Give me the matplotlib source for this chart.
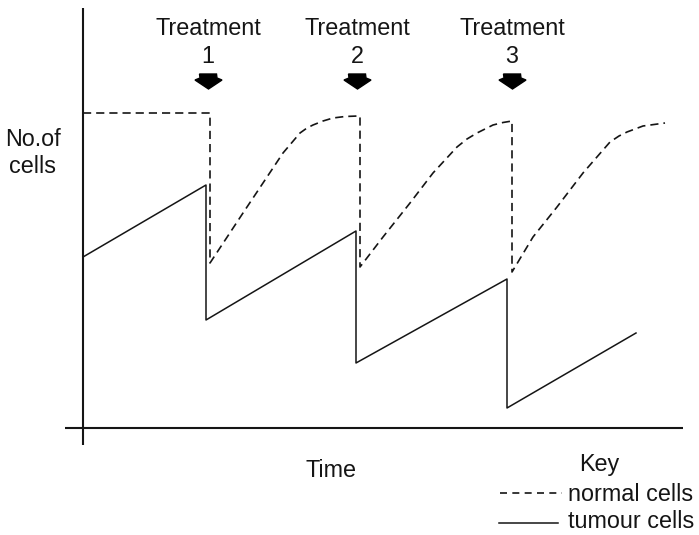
import matplotlib
matplotlib.use("Agg")
import matplotlib.pyplot as plt
from matplotlib.patches import Polygon

# ---- data (time units, cell-count units) ----
tumour_t = [0.0, 12.3, 12.3, 27.3, 27.3, 42.4, 42.4, 55.3]
tumour_n = [17.1, 24.3, 10.8, 19.7, 6.5, 14.9, 2.0, 9.5]

normal_t = [0.0, 12.7, 12.7, 16.0, 18.4, 20.0, 21.7, 22.4, 23.0, 24.0, 25.0, 26.2, 27.5,
            27.7, 27.7, 30.0, 32.7, 35.0, 37.4, 38.4, 39.4, 41.0, 42.0, 42.9,
            42.9, 45.0, 47.4, 50.0, 52.7, 53.6, 54.4, 56.0, 58.2]
normal_n = [31.5, 31.5, 16.5, 21.5, 25.1, 27.5, 29.5, 30.0, 30.3, 30.7, 31.0, 31.15, 31.2,
            31.2, 16.1, 19.1, 22.5, 25.5, 28.1, 28.9, 29.5, 30.3, 30.55, 30.7,
            15.6, 19.1, 22.1, 25.5, 28.6, 29.2, 29.6, 30.2, 30.5]

treatment_times = [12.5, 27.4, 42.9]
treatment_labels = ["1", "2", "3"]

FONT = "Liberation Sans"
FS = 16.8
INK = "#151515"
DASH = (0, (4.9, 3.0))

fig = plt.figure(figsize=(6.99, 5.35), dpi=100)
ax = fig.add_axes([0, 0, 1, 1])
ax.set_xlim(-8.3, 61.6)
ax.set_ylim(-10.7, 42.8)
ax.axis("off")

# axes lines (crossing)
ax.plot([0, 0], [-1.7, 42.0], color=INK, lw=1.5, solid_capstyle="butt")
ax.plot([-1.8, 60.0], [0.05, 0.05], color=INK, lw=1.5, solid_capstyle="butt")

# series
ax.plot(normal_t, normal_n, color=INK, lw=1.2, linestyle=DASH)
ax.plot(tumour_t, tumour_n, color=INK, lw=1.1)

# treatment markers
for t, lab in zip(treatment_times, treatment_labels):
    ax.text(t, 39.3, "Treatment", ha="center", va="baseline", fontsize=FS,
            family=FONT, color=INK)
    ax.text(t, 36.5, lab, ha="center", va="baseline", fontsize=FS,
            family=FONT, color=INK)
    arrow = [(t - 0.85, 35.4), (t + 0.85, 35.4), (t + 0.9, 35.0), (t + 1.4, 34.8),
             (t + 0.05, 33.9), (t - 1.3, 34.8), (t - 0.8, 35.0)]
    ax.add_patch(Polygon(arrow, closed=True, facecolor="black", edgecolor="black",
                         lw=1.0, joinstyle="miter"))

# axis labels
ax.text(-5.0, 28.2, "No.of", ha="center", va="baseline", fontsize=FS, family=FONT, color=INK)
ax.text(-5.0, 25.5, "cells", ha="center", va="baseline", fontsize=FS, family=FONT, color=INK)
ax.text(24.8, -4.9, "Time", ha="center", va="baseline", fontsize=FS, family=FONT, color=INK)

# key
ax.text(51.6, -4.3, "Key", ha="center", va="baseline", fontsize=FS, family=FONT, color=INK)
ax.plot([41.7, 47.9], [-6.5, -6.5], color=INK, lw=1.2, linestyle=(0, (4.2, 3.2)))
ax.text(48.5, -7.3, "normal cells", ha="left", va="baseline", fontsize=FS, family=FONT, color=INK)
ax.plot([41.6, 47.5], [-9.5, -9.5], color=INK, lw=1.1)
ax.text(48.5, -10.0, "tumour cells", ha="left", va="baseline", fontsize=FS, family=FONT, color=INK)

fig.savefig("out.png", dpi=100)
